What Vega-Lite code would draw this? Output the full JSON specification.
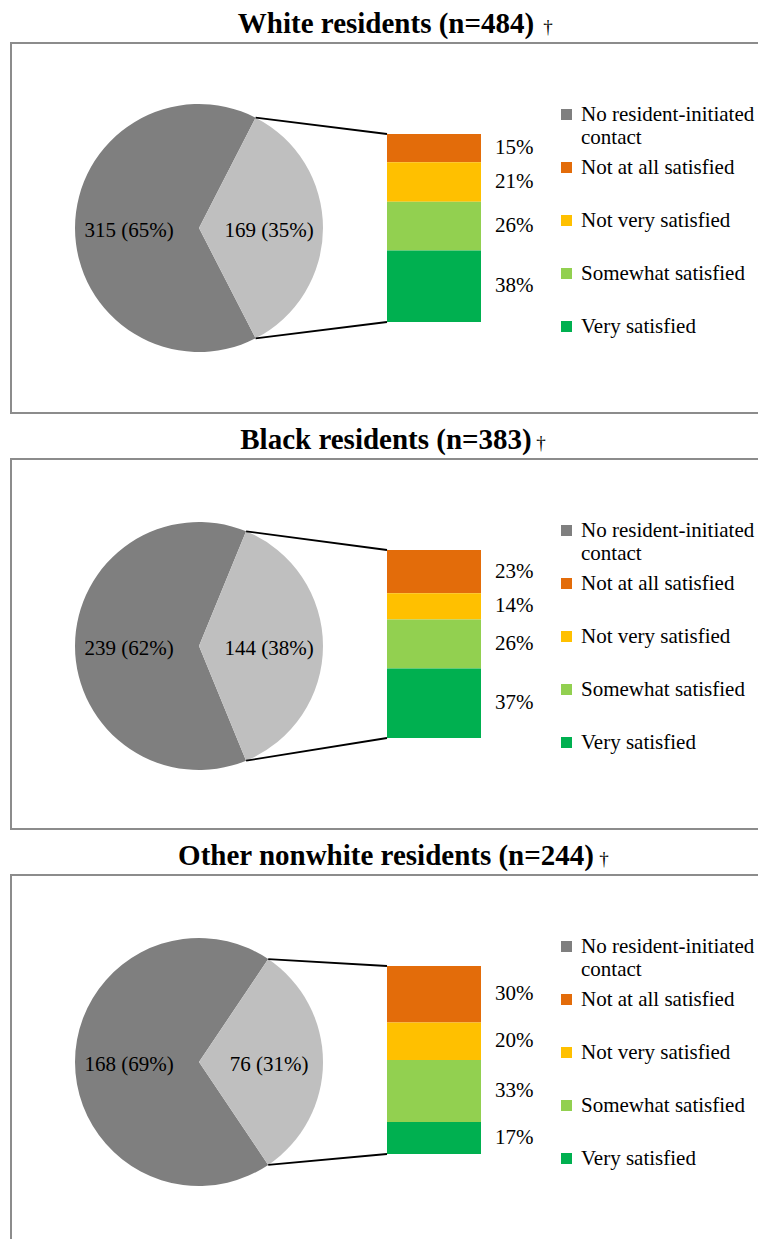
{
  "$schema": "https://vega.github.io/schema/vega-lite/v6.json",
  "padding": {"left": 10, "top": 9, "right": 0, "bottom": 0},
  "background": "white",
  "config": {
    "font": "Liberation Serif",
    "view": {"stroke": "#8c8c8c", "strokeWidth": 2}
  },
  "datasets": {
    "pie": [
      {"panel": "White", "cat": "No resident-initiated contact", "n": 315, "label": "315 (65%)"},
      {"panel": "White", "cat": "Resident-initiated contact", "n": 169, "label": "169 (35%)"},
      {"panel": "Black", "cat": "No resident-initiated contact", "n": 239, "label": "239 (62%)"},
      {"panel": "Black", "cat": "Resident-initiated contact", "n": 144, "label": "144 (38%)"},
      {"panel": "Other", "cat": "No resident-initiated contact", "n": 168, "label": "168 (69%)"},
      {"panel": "Other", "cat": "Resident-initiated contact", "n": 76, "label": "76 (31%)"}
    ],
    "sat": [
      {"panel": "White", "group": "Contacted", "cat": "Not at all satisfied", "pct": 0.15},
      {"panel": "White", "group": "Contacted", "cat": "Not very satisfied", "pct": 0.21},
      {"panel": "White", "group": "Contacted", "cat": "Somewhat satisfied", "pct": 0.26},
      {"panel": "White", "group": "Contacted", "cat": "Very satisfied", "pct": 0.38},
      {"panel": "Black", "group": "Contacted", "cat": "Not at all satisfied", "pct": 0.23},
      {"panel": "Black", "group": "Contacted", "cat": "Not very satisfied", "pct": 0.14},
      {"panel": "Black", "group": "Contacted", "cat": "Somewhat satisfied", "pct": 0.26},
      {"panel": "Black", "group": "Contacted", "cat": "Very satisfied", "pct": 0.37},
      {"panel": "Other", "group": "Contacted", "cat": "Not at all satisfied", "pct": 0.30},
      {"panel": "Other", "group": "Contacted", "cat": "Not very satisfied", "pct": 0.20},
      {"panel": "Other", "group": "Contacted", "cat": "Somewhat satisfied", "pct": 0.33},
      {"panel": "Other", "group": "Contacted", "cat": "Very satisfied", "pct": 0.17}
    ]
  },
  "spacing": 11,
  "resolve": {"scale": {"color": "independent", "theta": "independent", "x": "independent", "y": "independent"}, "legend": {"color": "independent"}},
  "vconcat": [
    {
      "width": 750, "height": 370,
      "layer": [
        {
          "data": {"name": "pie"}, "transform": [{"filter": "datum.panel === 'White'"}],
          "mark": {"type": "arc", "outerRadius": 124, "x": 188, "y": 185},
          "encoding": {
            "theta": {"field": "n", "type": "quantitative", "stack": true, "scale": {"range": [0.4738, 6.7570]}},
            "order": {"field": "cat", "sort": "descending"},
            "color": {"field": "cat", "type": "nominal",
              "scale": {"domain": ["No resident-initiated contact", "Resident-initiated contact", "Not at all satisfied", "Not very satisfied", "Somewhat satisfied", "Very satisfied"], "range": ["#7f7f7f", "#bfbfbf", "#e36c0a", "#ffc000", "#92d050", "#00b050"]},
              "legend": {"values": ["No resident-initiated contact", "Not at all satisfied", "Not very satisfied", "Somewhat satisfied", "Very satisfied"],
                "labelExpr": "datum.label == 'No resident-initiated contact' ? ['No resident-initiated', 'contact'] : datum.label",
                "orient": "none", "legendX": 545, "legendY": 61, "title": null,
                "symbolType": "square", "symbolSize": 121, "symbolStrokeWidth": 0,
                "labelFont": "Liberation Serif", "labelFontSize": 21, "labelColor": "black", "labelLimit": 400, "labelOffset": 4,
                "rowPadding": 8, "gridAlign": "all"}}
          }
        },
        {
          "data": {"name": "pie"}, "transform": [{"filter": "datum.panel === 'White'"}],
          "mark": {"type": "text", "radius": 70, "x": 188, "y": 185, "dy": 3, "fontSize": 21, "font": "Liberation Serif", "color": "black"},
          "encoding": {
            "theta": {"field": "n", "type": "quantitative", "stack": true},
            "order": {"field": "cat", "sort": "descending"},
            "text": {"field": "label"}
          }
        },
        {
          "data": {"values": [{}]},
          "mark": {"type": "rule", "color": "black", "strokeWidth": 1.8},
          "encoding": {"x": {"value": 244.6}, "y": {"value": 74.7}, "x2": {"value": 376}, "y2": {"value": 91}}
        },
        {
          "data": {"values": [{}]},
          "mark": {"type": "rule", "color": "black", "strokeWidth": 1.8},
          "encoding": {"x": {"value": 244.6}, "y": {"value": 295.3}, "x2": {"value": 376}, "y2": {"value": 279}}
        },
        {
          "data": {"name": "sat"}, "transform": [{"filter": "datum.panel === 'White'"}],
          "mark": {"type": "bar"},
          "encoding": {
            "x": {"field": "group", "type": "nominal", "scale": {"type": "band", "range": [376, 470], "paddingInner": 0, "paddingOuter": 0}, "axis": null},
            "y": {"field": "pct", "type": "quantitative", "stack": "zero", "scale": {"domain": [0, 1], "range": [279, 91], "nice": false}, "axis": null},
            "order": {"field": "cat", "sort": "descending"},
            "color": {"field": "cat", "type": "nominal"}
          }
        },
        {
          "data": {"name": "sat"}, "transform": [{"filter": "datum.panel === 'White'"}],
          "mark": {"type": "text", "align": "left", "baseline": "middle", "dx": 14, "fontSize": 21, "font": "Liberation Serif", "color": "black"},
          "encoding": {
            "x": {"field": "group", "type": "nominal", "bandPosition": 1},
            "y": {"field": "pct", "type": "quantitative", "stack": "zero", "bandPosition": 0.5},
            "order": {"field": "cat", "sort": "descending"},
            "text": {"field": "pct", "type": "quantitative", "format": ".0%"}
          }
        },
        {
          "data": {"values": [{}]},
          "mark": {"type": "text", "text": "White residents (n=484)", "x": 375, "y": -10, "align": "center", "baseline": "alphabetic", "fontSize": 29, "fontWeight": "bold", "font": "Liberation Serif", "color": "black"},
          "encoding": {}
        },
        {
          "data": {"values": [{}]},
          "mark": {"type": "text", "text": "†", "x": 537, "y": -10, "align": "center", "baseline": "alphabetic", "fontSize": 19, "font": "Liberation Serif", "color": "black"},
          "encoding": {}
        }
      ]
    },
    {
      "width": 750, "height": 370,
      "layer": [
        {
          "data": {"name": "pie"}, "transform": [{"filter": "datum.panel === 'Black'"}],
          "mark": {"type": "arc", "outerRadius": 124, "x": 188, "y": 187},
          "encoding": {
            "theta": {"field": "n", "type": "quantitative", "stack": true, "scale": {"range": [0.3896, 6.6728]}},
            "order": {"field": "cat", "sort": "descending"},
            "color": {"field": "cat", "type": "nominal",
              "scale": {"domain": ["No resident-initiated contact", "Resident-initiated contact", "Not at all satisfied", "Not very satisfied", "Somewhat satisfied", "Very satisfied"], "range": ["#7f7f7f", "#bfbfbf", "#e36c0a", "#ffc000", "#92d050", "#00b050"]},
              "legend": {"values": ["No resident-initiated contact", "Not at all satisfied", "Not very satisfied", "Somewhat satisfied", "Very satisfied"],
                "labelExpr": "datum.label == 'No resident-initiated contact' ? ['No resident-initiated', 'contact'] : datum.label",
                "orient": "none", "legendX": 545, "legendY": 61, "title": null,
                "symbolType": "square", "symbolSize": 121, "symbolStrokeWidth": 0,
                "labelFont": "Liberation Serif", "labelFontSize": 21, "labelColor": "black", "labelLimit": 400, "labelOffset": 4,
                "rowPadding": 8, "gridAlign": "all"}}
          }
        },
        {
          "data": {"name": "pie"}, "transform": [{"filter": "datum.panel === 'Black'"}],
          "mark": {"type": "text", "radius": 70, "x": 188, "y": 187, "dy": 3, "fontSize": 21, "font": "Liberation Serif", "color": "black"},
          "encoding": {
            "theta": {"field": "n", "type": "quantitative", "stack": true},
            "order": {"field": "cat", "sort": "descending"},
            "text": {"field": "label"}
          }
        },
        {
          "data": {"values": [{}]},
          "mark": {"type": "rule", "color": "black", "strokeWidth": 1.8},
          "encoding": {"x": {"value": 235.1}, "y": {"value": 72.3}, "x2": {"value": 376}, "y2": {"value": 91}}
        },
        {
          "data": {"values": [{}]},
          "mark": {"type": "rule", "color": "black", "strokeWidth": 1.8},
          "encoding": {"x": {"value": 235.1}, "y": {"value": 301.7}, "x2": {"value": 376}, "y2": {"value": 279}}
        },
        {
          "data": {"name": "sat"}, "transform": [{"filter": "datum.panel === 'Black'"}],
          "mark": {"type": "bar"},
          "encoding": {
            "x": {"field": "group", "type": "nominal", "scale": {"type": "band", "range": [376, 470], "paddingInner": 0, "paddingOuter": 0}, "axis": null},
            "y": {"field": "pct", "type": "quantitative", "stack": "zero", "scale": {"domain": [0, 1], "range": [279, 91], "nice": false}, "axis": null},
            "order": {"field": "cat", "sort": "descending"},
            "color": {"field": "cat", "type": "nominal"}
          }
        },
        {
          "data": {"name": "sat"}, "transform": [{"filter": "datum.panel === 'Black'"}],
          "mark": {"type": "text", "align": "left", "baseline": "middle", "dx": 14, "fontSize": 21, "font": "Liberation Serif", "color": "black"},
          "encoding": {
            "x": {"field": "group", "type": "nominal", "bandPosition": 1},
            "y": {"field": "pct", "type": "quantitative", "stack": "zero", "bandPosition": 0.5},
            "order": {"field": "cat", "sort": "descending"},
            "text": {"field": "pct", "type": "quantitative", "format": ".0%"}
          }
        },
        {
          "data": {"values": [{}]},
          "mark": {"type": "text", "text": "Black residents (n=383)", "x": 375, "y": -10, "align": "center", "baseline": "alphabetic", "fontSize": 29, "fontWeight": "bold", "font": "Liberation Serif", "color": "black"},
          "encoding": {}
        },
        {
          "data": {"values": [{}]},
          "mark": {"type": "text", "text": "†", "x": 530, "y": -10, "align": "center", "baseline": "alphabetic", "fontSize": 19, "font": "Liberation Serif", "color": "black"},
          "encoding": {}
        }
      ]
    },
    {
      "width": 750, "height": 370,
      "layer": [
        {
          "data": {"name": "pie"}, "transform": [{"filter": "datum.panel === 'Other'"}],
          "mark": {"type": "arc", "outerRadius": 124, "x": 188, "y": 187},
          "encoding": {
            "theta": {"field": "n", "type": "quantitative", "stack": true, "scale": {"range": [0.5923, 6.8754]}},
            "order": {"field": "cat", "sort": "descending"},
            "color": {"field": "cat", "type": "nominal",
              "scale": {"domain": ["No resident-initiated contact", "Resident-initiated contact", "Not at all satisfied", "Not very satisfied", "Somewhat satisfied", "Very satisfied"], "range": ["#7f7f7f", "#bfbfbf", "#e36c0a", "#ffc000", "#92d050", "#00b050"]},
              "legend": {"values": ["No resident-initiated contact", "Not at all satisfied", "Not very satisfied", "Somewhat satisfied", "Very satisfied"],
                "labelExpr": "datum.label == 'No resident-initiated contact' ? ['No resident-initiated', 'contact'] : datum.label",
                "orient": "none", "legendX": 545, "legendY": 61, "title": null,
                "symbolType": "square", "symbolSize": 121, "symbolStrokeWidth": 0,
                "labelFont": "Liberation Serif", "labelFontSize": 21, "labelColor": "black", "labelLimit": 400, "labelOffset": 4,
                "rowPadding": 8, "gridAlign": "all"}}
          }
        },
        {
          "data": {"name": "pie"}, "transform": [{"filter": "datum.panel === 'Other'"}],
          "mark": {"type": "text", "radius": 70, "x": 188, "y": 187, "dy": 3, "fontSize": 21, "font": "Liberation Serif", "color": "black"},
          "encoding": {
            "theta": {"field": "n", "type": "quantitative", "stack": true},
            "order": {"field": "cat", "sort": "descending"},
            "text": {"field": "label"}
          }
        },
        {
          "data": {"values": [{}]},
          "mark": {"type": "rule", "color": "black", "strokeWidth": 1.8},
          "encoding": {"x": {"value": 257.2}, "y": {"value": 84.1}, "x2": {"value": 376}, "y2": {"value": 91}}
        },
        {
          "data": {"values": [{}]},
          "mark": {"type": "rule", "color": "black", "strokeWidth": 1.8},
          "encoding": {"x": {"value": 257.2}, "y": {"value": 289.9}, "x2": {"value": 376}, "y2": {"value": 279}}
        },
        {
          "data": {"name": "sat"}, "transform": [{"filter": "datum.panel === 'Other'"}],
          "mark": {"type": "bar"},
          "encoding": {
            "x": {"field": "group", "type": "nominal", "scale": {"type": "band", "range": [376, 470], "paddingInner": 0, "paddingOuter": 0}, "axis": null},
            "y": {"field": "pct", "type": "quantitative", "stack": "zero", "scale": {"domain": [0, 1], "range": [279, 91], "nice": false}, "axis": null},
            "order": {"field": "cat", "sort": "descending"},
            "color": {"field": "cat", "type": "nominal"}
          }
        },
        {
          "data": {"name": "sat"}, "transform": [{"filter": "datum.panel === 'Other'"}],
          "mark": {"type": "text", "align": "left", "baseline": "middle", "dx": 14, "fontSize": 21, "font": "Liberation Serif", "color": "black"},
          "encoding": {
            "x": {"field": "group", "type": "nominal", "bandPosition": 1},
            "y": {"field": "pct", "type": "quantitative", "stack": "zero", "bandPosition": 0.5},
            "order": {"field": "cat", "sort": "descending"},
            "text": {"field": "pct", "type": "quantitative", "format": ".0%"}
          }
        },
        {
          "data": {"values": [{}]},
          "mark": {"type": "text", "text": "Other nonwhite residents (n=244)", "x": 375, "y": -10, "align": "center", "baseline": "alphabetic", "fontSize": 29, "fontWeight": "bold", "font": "Liberation Serif", "color": "black"},
          "encoding": {}
        },
        {
          "data": {"values": [{}]},
          "mark": {"type": "text", "text": "†", "x": 593, "y": -10, "align": "center", "baseline": "alphabetic", "fontSize": 19, "font": "Liberation Serif", "color": "black"},
          "encoding": {}
        }
      ]
    }
  ]
}
